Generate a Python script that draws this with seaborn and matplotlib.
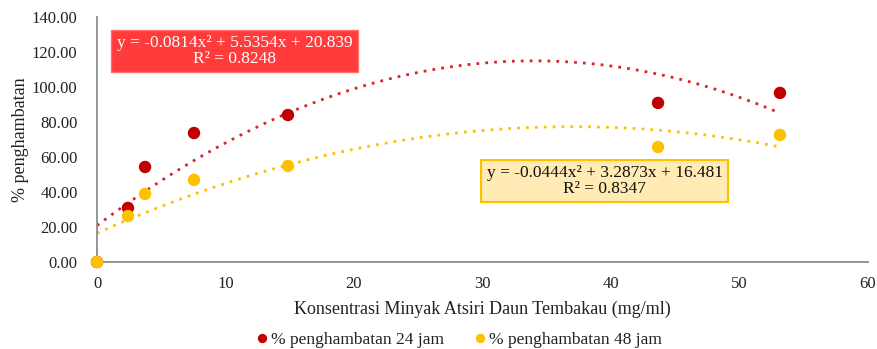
import numpy as np
import pandas as pd
import matplotlib
matplotlib.use("Agg")
import matplotlib.pyplot as plt
import seaborn as sns

# Concentration of tobacco-leaf essential oil (mg/ml)
konsentrasi = [0.0, 2.41, 3.74, 7.55, 14.86, 43.66, 53.15]
# Percent inhibition after 24 h and 48 h
hambat_24 = [0.0, 30.9, 54.3, 73.7, 84.0, 90.9, 96.6]
hambat_48 = [0.0, 26.3, 38.9, 46.9, 54.9, 65.7, 72.6]
# Polynomial trendline coefficients (a, b, c) and R²
koef_24 = [-0.0814, 5.5354, 20.839]
koef_48 = [-0.0444, 3.2873, 16.481]
r2_24 = 0.8248
r2_48 = 0.8347
label_24 = "% penghambatan 24 jam"
label_48 = "% penghambatan 48 jam"

sns.set_theme(style="white")
plt.rcParams["font.family"] = ["Liberation Serif", "DejaVu Serif"]

merah = "#C00000"
kuning = "#FFC000"

df = pd.DataFrame({
    "x": konsentrasi * 2,
    "y": hambat_24 + hambat_48,
    "seri": [label_24] * len(konsentrasi) + [label_48] * len(konsentrasi),
})

fig = plt.figure(figsize=(8.77, 3.49), dpi=100)
ax = fig.add_axes([97 / 877, 1 - 262 / 349, (868 - 97) / 877, (262 - 17) / 349])

sns.scatterplot(data=df, x="x", y="y", hue="seri",
                palette={label_24: merah, label_48: kuning},
                s=80, edgecolor="none", ax=ax, legend=True, zorder=3,
                clip_on=False)

# Dotted polynomial trendlines
xs = np.linspace(0, max(konsentrasi), 300)
ax.plot(xs, np.polyval(koef_24, xs), linestyle=(0, (1, 2.2)), color="#D9262B",
        lw=2.0, zorder=2)
ax.plot(xs, np.polyval(koef_48, xs), linestyle=(0, (1, 2.2)), color=kuning,
        lw=2.0, zorder=2)

ax.set_xlim(0, 60)
ax.set_ylim(0, 140)
ax.set_xticks(range(0, 61, 10))
ax.set_yticks(range(0, 141, 20))
ax.set_yticklabels([f"{v:.2f}" for v in range(0, 141, 20)])
ax.tick_params(axis="both", length=0, labelsize=12, colors="#222222")
ax.tick_params(axis="y", pad=14)
ax.tick_params(axis="x", pad=10)
for side in ("top", "right"):
    ax.spines[side].set_visible(False)
for side in ("left", "bottom"):
    ax.spines[side].set_color("#8c8c8c")
    ax.spines[side].set_linewidth(1.3)

ax.set_xlabel("Konsentrasi Minyak Atsiri Daun Tembakau (mg/ml)", fontsize=13,
              color="#222222", labelpad=6)
ax.set_ylabel("% penghambatan", fontsize=13, color="#222222", labelpad=2)

def persamaan(k, r2):
    a, b, c = k
    return f"y = {a:.4f}x\u00b2 + {b:.4f}x + {c:.3f}\nR\u00b2 = {r2:.4f}"

ax.text(10.7, 120.6, persamaan(koef_24, r2_24), ha="center", va="center",
        fontsize=12.5, color="white", linespacing=1.0, multialignment="center",
        bbox=dict(boxstyle="square,pad=0.3", facecolor="#FF3B3B",
                  edgecolor="#FF7070", lw=1))
ax.text(39.5, 46.3, persamaan(koef_48, r2_48), ha="center", va="center",
        fontsize=12.5, color="#111111", linespacing=1.0, multialignment="center",
        bbox=dict(boxstyle="square,pad=0.3", facecolor="#FFEBB3",
                  edgecolor=kuning, lw=1.5))

leg = ax.legend(loc="center", bbox_to_anchor=(0.462, -0.32), ncol=2, frameon=False,
                fontsize=12.5, handletextpad=-0.5, columnspacing=1.1,
                markerscale=0.75, borderaxespad=0)
for t in leg.get_texts():
    t.set_color("#222222")

fig.savefig("out.png", dpi=100)
